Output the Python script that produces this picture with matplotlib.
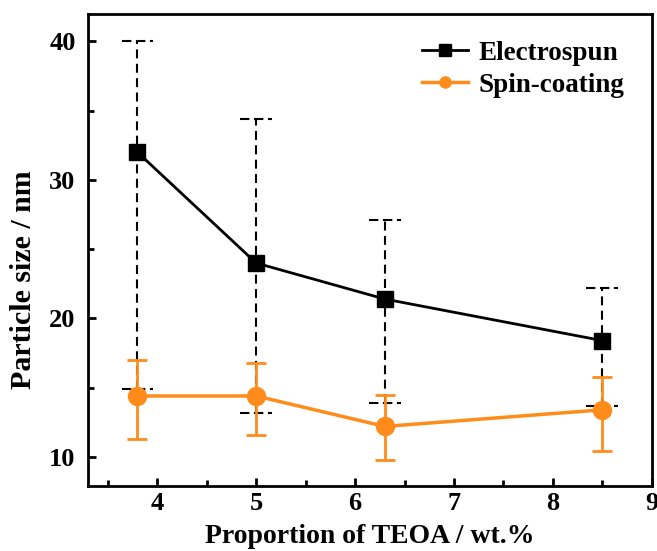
import matplotlib
matplotlib.use("Agg")
import matplotlib.pyplot as plt

plt.rcParams['font.family'] = ['Liberation Serif', 'DejaVu Serif']
plt.rcParams['font.weight'] = 'bold'

# data
teoa = [3.8, 5.0, 6.3, 8.5]
elec = [32.0, 24.0, 21.4, 18.4]
elec_hi = [40.0, 34.4, 27.1, 22.2]
elec_lo = [14.9, 13.2, 13.9, 13.7]
spin = [14.4, 14.4, 12.2, 13.4]
spin_hi = [17.0, 16.8, 14.5, 15.8]
spin_lo = [11.3, 11.6, 9.8, 10.4]

orange = '#ff8c1a'

fig = plt.figure(figsize=(6.57, 5.51), dpi=100)
ax = fig.add_axes([0.134, 0.118, 0.858, 0.857])

# electrospun, dashed error bars
err_e = [[m - l for m, l in zip(elec, elec_lo)], [h - m for m, h in zip(elec, elec_hi)]]
eb = ax.errorbar(teoa, elec, yerr=err_e, fmt='none', ecolor='black', elinewidth=1.5, capsize=0)
eb[2][0].set_linestyle((0, (4.3, 2.6)))
capw = 0.16
for x, lo, hi in zip(teoa, elec_lo, elec_hi):
    ax.hlines([lo, hi], x - capw, x + capw, colors='black', linewidth=1.5,
              linestyles=[(0, (4.5, 2.2))], zorder=2)
ax.plot(teoa, elec, '-s', color='black', lw=2, ms=11, label='Electrospun', zorder=4)

# spin-coating, solid error bars
err_s = [[m - l for m, l in zip(spin, spin_lo)], [h - m for m, h in zip(spin, spin_hi)]]
ax.errorbar(teoa, spin, yerr=err_s, fmt='none', ecolor=orange, elinewidth=2,
            capsize=7, capthick=2, zorder=3)
ax.plot(teoa, spin, '-o', color=orange, lw=2.5, ms=13, label='Spin-coating', zorder=5)

ax.set_xlim(3.3, 9)
ax.set_ylim(7.9, 42)
ax.set_xticks([4, 5, 6, 7, 8, 9])
ax.set_xticks([3.5, 4.5, 5.5, 6.5, 7.5, 8.5], minor=True)
ax.set_yticks([10, 20, 30, 40])
ax.set_yticks([15, 25, 35], minor=True)
ax.tick_params(direction='in', which='major', length=6, width=2, labelsize=19)
ax.tick_params(direction='in', which='minor', length=4, width=2)
ax.tick_params(axis='x', which='major', pad=4)
ax.tick_params(axis='y', which='major', pad=9)
for s in ax.spines.values():
    s.set_linewidth(2)

ax.set_xlabel('Proportion of TEOA / wt.%', fontsize=20, fontweight='bold', labelpad=7)
ax.set_ylabel('Particle size / nm', fontsize=21.5, fontweight='bold')
ax.yaxis.set_label_coords(-0.09, 0.436)

leg = ax.legend(loc='upper right', frameon=False, fontsize=19.5, handlelength=1.7,
                handletextpad=0.4, borderaxespad=0.6, labelspacing=0.25)
for t in leg.get_texts():
    t.set_fontweight('bold')
for h in leg.legend_handles:
    h.set_markersize(8)

fig.savefig('out.png', dpi=100)
